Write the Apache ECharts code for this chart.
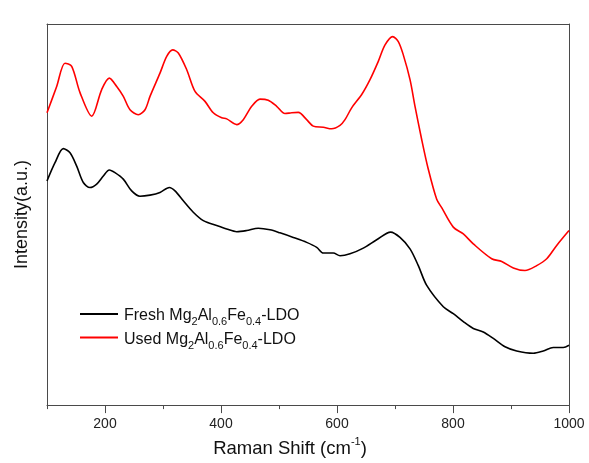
<!DOCTYPE html>
<html>
<head>
<meta charset="utf-8">
<script src="https://cdn.jsdelivr.net/npm/echarts@6/dist/echarts.min.js"></script>
<style>
  html, body { margin: 0; padding: 0; background: #fff; }
  #chart { width: 589px; height: 463px; }
</style>
</head>
<body>
<div id="chart"></div>
<script>
// Raman shift (cm-1) and relative intensity (a.u.) for each sample
const usedShift = [100, 116.7, 131, 142.6, 156.9, 177.1, 194.3, 207.4, 220.2, 231.6, 243.1, 257.4, 269, 277.6, 294.8, 306.4, 316.7, 326.4, 340.9, 355.2, 372.4, 386.7, 401.2, 409.8, 427.1, 438.4, 452.9, 467.2, 481.5, 496, 510.3, 521.9, 533.3, 547.7, 559.1, 576.4, 590.8, 605.2, 613.8, 625.3, 642.6, 656.9, 671.2, 682.8, 696, 705.7, 714.3, 725.9, 734.5, 746, 757.4, 771.9, 780.5, 800.5, 817.8, 835, 866.7, 884, 904, 924.1, 944.3, 961.6, 978.8, 1000];
const usedIntensity = [76.7, 83.6, 89.7, 88.9, 82.0, 75.8, 82.8, 85.8, 83.6, 81.0, 77.5, 76.2, 77.5, 81.0, 87.1, 91.5, 93.2, 92.4, 88.0, 82.3, 79.7, 76.7, 75.4, 75.1, 73.6, 74.9, 78.4, 80.3, 80.0, 78.4, 76.5, 76.7, 76.8, 74.9, 73.2, 72.9, 72.5, 73.4, 74.9, 78.0, 81.5, 85.4, 90.2, 94.5, 96.7, 95.4, 91.9, 85.4, 78.4, 69.7, 61.9, 54.0, 51.8, 46.7, 44.9, 42.3, 38.4, 37.7, 36.0, 35.3, 36.6, 38.4, 41.9, 45.8];

const freshShift = [100, 113.8, 128.1, 139.7, 151.2, 162.6, 174.1, 185.7, 197.1, 207.4, 217.2, 231.5, 246, 260.3, 277.6, 294.8, 310.9, 320.7, 335, 352.2, 369.5, 392.6, 409.8, 427.1, 444.3, 464.3, 484.5, 501.7, 524.6, 547.7, 565, 576.4, 593.6, 605.2, 622.4, 645.3, 668.4, 692.5, 708.6, 725.9, 740.2, 754.7, 783.3, 800.5, 817.8, 835, 852.2, 869.5, 889.7, 909.8, 938.4, 955.6, 972.9, 990.1, 1000];
const freshIntensity = [58.8, 63.6, 67.3, 66.2, 62.7, 58.4, 57.1, 58.0, 60.1, 61.7, 61.0, 59.3, 56.2, 54.8, 55.1, 55.8, 57.1, 56.2, 53.6, 50.6, 48.4, 47.1, 46.2, 45.5, 45.8, 46.4, 46.0, 45.2, 44.0, 42.7, 41.4, 39.9, 39.9, 39.2, 39.7, 41.2, 43.4, 45.4, 44.0, 41.0, 36.6, 31.4, 25.8, 24.0, 21.9, 20.1, 19.2, 17.5, 15.3, 14.2, 13.6, 14.2, 15.1, 15.1, 15.7];

const majorTicks = [200, 400, 600, 800, 1000];
const minorTicks = [100, 300, 500, 700, 900];

const seriesNames = ['Fresh Mg2Al0.6Fe0.4-LDO', 'Used Mg2Al0.6Fe0.4-LDO'];
const legendRich = {
  Fresh: '{n|Fresh Mg}{s|2}{n|Al}{s|0.6}{n|Fe}{s|0.4}{n|-LDO}',
  Used: '{n|Used Mg}{s|2}{n|Al}{s|0.6}{n|Fe}{s|0.4}{n|-LDO}'
};

const zip = (xs, ys) => xs.map((x, i) => [x, ys[i]]);

const frameColor = '#4a4a4a';
const font = 'Liberation Sans, Arial, sans-serif';

const chart = echarts.init(document.getElementById('chart'), null, { renderer: 'canvas' });

chart.setOption({
  animation: false,
  backgroundColor: '#fff',
  grid: { left: 47, right: 20, top: 24, bottom: 56, containLabel: false },
  legend: {
    orient: 'vertical',
    left: 80,
    top: 306,
    padding: 0,
    itemWidth: 38,
    itemHeight: 2,
    itemGap: 2,
    icon: 'rect',
    data: seriesNames,
    formatter: name => name.startsWith('Fresh') ? legendRich.Fresh : legendRich.Used,
    textStyle: {
      fontFamily: font,
      color: '#111',
      padding: [0, 0, 0, 1],
      rich: {
        n: { fontSize: 16, fontFamily: font, color: '#111', lineHeight: 16, verticalAlign: 'top', padding: [2, 0, 0, 0] },
        s: { fontSize: 11, fontFamily: font, color: '#111', lineHeight: 11, verticalAlign: 'top', padding: [10.5, 0, 0, 0] }
      }
    }
  },
  xAxis: [
    {
      type: 'value', min: 100, max: 1000, interval: 100, position: 'bottom',
      name: '{n|Raman Shift (cm}{sup|-1}{n|)}',
      nameLocation: 'middle', nameGap: 29,
      nameTextStyle: {
        fontFamily: font, fontSize: 18.5, color: '#111',
        padding: [0, 36, 0, 0],
        rich: {
          n: { fontSize: 18.5, fontFamily: font, color: '#111', lineHeight: 22, verticalAlign: 'bottom' },
          sup: { fontSize: 11, fontFamily: font, color: '#111', lineHeight: 12, verticalAlign: 'top' }
        }
      },
      axisLine: { show: true, onZero: false, lineStyle: { color: frameColor, width: 1 } },
      axisTick: { show: true, inside: false, length: 8, customValues: majorTicks, lineStyle: { color: frameColor } },
      axisLabel: { show: true, customValues: majorTicks, formatter: v => String(v), fontFamily: font, fontSize: 14, color: '#222', margin: 12 },
      splitLine: { show: false }
    },
    {
      type: 'value', min: 100, max: 1000, interval: 100, position: 'bottom',
      axisLine: { show: false },
      axisTick: { show: true, inside: false, length: 4, customValues: minorTicks, lineStyle: { color: frameColor } },
      axisLabel: { show: false },
      splitLine: { show: false }
    },
    {
      type: 'value', min: 100, max: 1000, position: 'top',
      axisLine: { show: true, onZero: false, lineStyle: { color: frameColor, width: 1 } },
      axisTick: { show: false }, axisLabel: { show: false }, splitLine: { show: false }
    }
  ],
  yAxis: [
    {
      type: 'value', min: 0, max: 100, position: 'left',
      name: 'Intensity(a.u.)', nameLocation: 'middle', nameGap: 16, nameRotate: 90,
      nameTextStyle: { fontFamily: font, fontSize: 18, color: '#111' },
      axisLine: { show: true, onZero: false, lineStyle: { color: frameColor, width: 1 } },
      axisTick: { show: false }, axisLabel: { show: false }, splitLine: { show: false }
    },
    {
      type: 'value', min: 0, max: 100, position: 'right',
      axisLine: { show: true, onZero: false, lineStyle: { color: frameColor, width: 1 } },
      axisTick: { show: false }, axisLabel: { show: false }, splitLine: { show: false }
    }
  ],
  series: [
    {
      name: seriesNames[0], type: 'line', xAxisIndex: 0, yAxisIndex: 0,
      data: zip(freshShift, freshIntensity),
      symbol: 'none', smooth: 0.3,
      lineStyle: { color: '#000', width: 1.6 }, itemStyle: { color: '#000' }
    },
    {
      name: seriesNames[1], type: 'line', xAxisIndex: 0, yAxisIndex: 0,
      data: zip(usedShift, usedIntensity),
      symbol: 'none', smooth: 0.3,
      lineStyle: { color: '#ff0000', width: 1.6 }, itemStyle: { color: '#ff0000' }
    }
  ]
});
</script>
</body>
</html>
